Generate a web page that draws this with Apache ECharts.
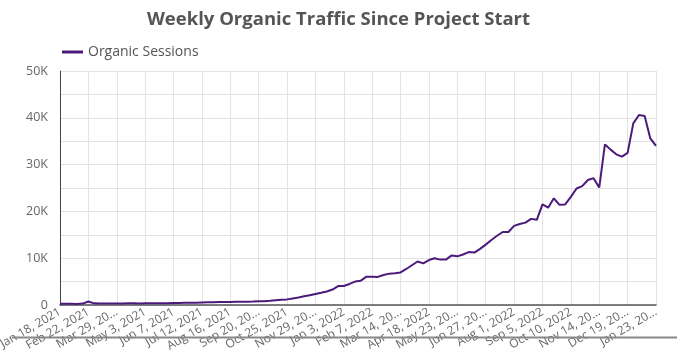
<!DOCTYPE html>
<html>
<head>
<meta charset="utf-8">
<script src="https://cdn.jsdelivr.net/npm/echarts@6/dist/echarts.min.js"></script>
<style>html,body{margin:0;padding:0;background:#fff}#c{width:677px;height:356px}</style>
</head>
<body>
<div id="c"></div>
<script>
// Tick labels shown every 5 weeks (as displayed, truncated where the original truncates)
var tickLabels = ['Jan 18, 2021','Feb 22, 2021','Mar 29, 20...','May 3, 2021','Jun 7, 2021','Jul 12, 2021','Aug 16, 2021','Sep 20, 20...','Oct 25, 2021','Nov 29, 20...','Jan 3, 2022','Feb 7, 2022','Mar 14, 20...','Apr 18, 2022','May 23, 20...','Jun 27, 20...','Aug 1, 2022','Sep 5, 2022','Oct 10, 2022','Nov 14, 20...','Dec 19, 20...','Jan 23, 20...'];

// Weekly organic sessions, week of Jan 18, 2021 onward (106 weeks)
var organicSessions = [
  250, 280, 260, 240, 300, 750, 350, 300, 320, 330,
  340, 330, 360, 350, 340, 380, 370, 380, 400, 380,
  420, 450, 480, 470, 500, 560, 580, 600, 620, 640,
  660, 700, 680, 720, 740, 780, 820, 900, 1000, 1100,
  1200, 1400, 1600, 1850, 2100, 2350, 2600, 2900, 3300, 4050,
  4050, 4500, 5000, 5200, 6050, 6050, 6000, 6400, 6700, 6800,
  6950, 7700, 8500, 9300, 8900, 9600, 10000, 9700, 9700, 10600,
  10400, 10800, 11300, 11200, 12000, 12900, 13900, 14800, 15600, 15600,
  16900, 17300, 17600, 18400, 18200, 21500, 20800, 22800, 21400, 21500,
  23100, 24900, 25400, 26700, 27100, 25100, 34300, 33200, 32200, 31700,
  32500, 38800, 40600, 40400, 35600, 34000
];

var categories = [];
(function(){
  var d = new Date(Date.UTC(2021,0,18));
  var m = ['Jan','Feb','Mar','Apr','May','Jun','Jul','Aug','Sep','Oct','Nov','Dec'];
  for (var i = 0; i < organicSessions.length; i++) {
    categories.push(m[d.getUTCMonth()] + ' ' + d.getUTCDate() + ', ' + d.getUTCFullYear());
    d = new Date(d.getTime() + 7*86400000);
  }
})();

var font = 'Open Sans';
var chart = echarts.init(document.getElementById('c'), null, {renderer:'canvas'});
chart.setOption({
  animation: false,
  backgroundColor: '#fff',
  title: {
    text: 'Weekly Organic Traffic Since Project Start',
    left: 'center', top: 5,
    textStyle: {fontFamily: font, fontSize: 18.5, fontWeight: 'bold', color: '#555'}
  },
  legend: {
    left: 57, top: 40,
    icon: 'rect', itemWidth: 21, itemHeight: 3, itemGap: 10,
    textStyle: {fontFamily: font, fontSize: 14, color: '#555'},
    data: ['Organic Sessions']
  },
  grid: {left: 60, right: 21, top: 71, bottom: 51, containLabel: false, outerBoundsMode: 'none'},
  xAxis: {
    type: 'category',
    data: categories,
    boundaryGap: false,
    axisLine: {show: true, lineStyle: {color: '#555', width: 1.5}},
    axisTick: {show: false},
    axisLabel: {
      interval: 0,
      rotate: 30,
      fontFamily: font, fontSize: 12, color: '#666', margin: 6,
      formatter: function(v, i){ return i % 5 === 0 ? tickLabels[i/5] : ''; }
    },
    splitLine: {show: true, interval: function(i){ return i % 5 === 0; }, lineStyle: {color: '#e3e3e3', width: 1}}
  },
  yAxis: {
    type: 'value',
    min: 0, max: 50000, interval: 5000,
    axisLine: {show: true, lineStyle: {color: '#444', width: 1}},
    axisTick: {show: false},
    axisLabel: {
      fontFamily: font, fontSize: 12.5, color: '#666', margin: 12,
      formatter: function(v){ return v % 10000 === 0 ? (v === 0 ? '0' : (v/1000) + 'K') : ''; }
    },
    splitLine: {show: true, lineStyle: {color: '#e3e3e3', width: 1}}
  },
  series: [{
    name: 'Organic Sessions',
    type: 'line',
    data: organicSessions,
    symbol: 'none',
    smooth: false,
    itemStyle: {color: '#4b1a7a'},
    lineStyle: {color: '#4b1a7a', width: 2}
  }],
  graphic: [{
    type: 'line', z: 100,
    shape: {x1: 12, y1: 337.5, x2: 677, y2: 337.5},
    style: {stroke: '#888', lineWidth: 2}
  }]
});
</script>
</body>
</html>
